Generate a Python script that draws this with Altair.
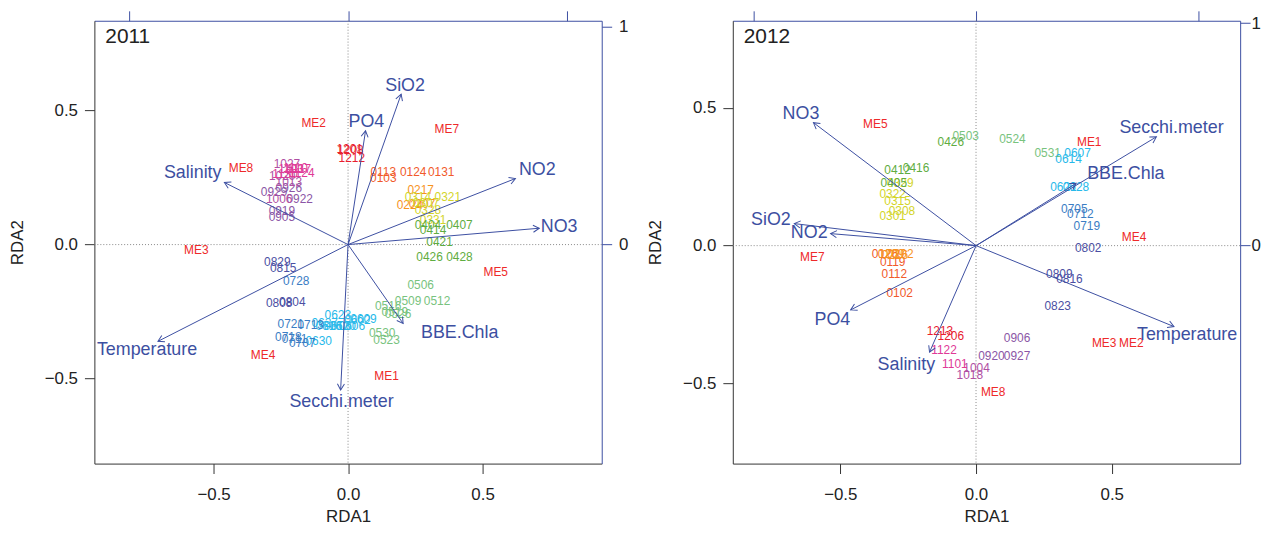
import altair as alt
import pandas as pd

FONT = "Liberation Sans"
BLUE = "#3C4FA1"
DARK = "#333333"

years = ["2011", "2012"]

# ---------------- 2011 site scores ----------------
sites_2011 = ["ME2", "ME8", "ME3", "ME4", "ME1", "ME5", "ME7",
              "1201", "1208", "1212",
              "0103", "0113", "0124", "0131",
              "0217", "0224", "0207",
              "0307", "0314", "0321", "0328", "0331",
              "0404", "0407", "0414", "0421", "0426", "0428",
              "0506", "0509", "0512", "0516", "0519", "0526", "0530", "0523",
              "0602", "0606", "0609", "0613", "0616", "0620", "0623", "0627", "0630",
              "0707", "0711", "0713", "0718", "0721", "0728",
              "0804", "0808", "0815", "0829",
              "0905", "0919", "0922", "0926", "0929",
              "1006", "1013", "1020", "1027",
              "1103", "1110", "1117", "1124", "1130"]
rda1_2011 = [-0.128, -0.398, -0.564, -0.316, 0.143, 0.549, 0.367,
             0.006, 0.009, 0.014,
             0.131, 0.131, 0.242, 0.346,
             0.270, 0.230, 0.275,
             0.290, 0.260, 0.371, 0.297, 0.316,
             0.297, 0.414, 0.316, 0.340, 0.303, 0.414,
             0.270, 0.223, 0.331, 0.149, 0.174, 0.186, 0.127, 0.143,
             0.035, 0.014, 0.057, -0.041, -0.072, -0.020, -0.038, -0.087, -0.109,
             -0.170, -0.199, -0.139, -0.222, -0.213, -0.193,
             -0.207, -0.256, -0.241, -0.263,
             -0.246, -0.246, -0.180, -0.220, -0.275,
             -0.256, -0.220, -0.245, -0.227,
             -0.212, -0.195, -0.183, -0.172, -0.234]
rda2_2011 = [0.454, 0.284, -0.020, -0.413, -0.491, -0.102, 0.431,
             0.356, 0.352, 0.324,
             0.250, 0.269, 0.269, 0.269,
             0.202, 0.149, 0.150,
             0.155, 0.177, 0.177, 0.128, 0.091,
             0.072, 0.072, 0.056, 0.010, -0.045, -0.045,
             -0.150, -0.212, -0.212, -0.231, -0.253, -0.259, -0.330, -0.357,
             -0.283, -0.302, -0.277, -0.302, -0.304, -0.302, -0.261, -0.294, -0.360,
             -0.367, -0.351, -0.299, -0.343, -0.296, -0.135,
             -0.213, -0.219, -0.086, -0.064,
             0.102, 0.124, 0.170, 0.210, 0.196,
             0.170, 0.235, 0.257, 0.301,
             0.283, 0.284, 0.283, 0.266, 0.265]

# ---------------- 2012 site scores ----------------
sites_2012 = ["ME5", "ME7", "ME1", "ME4", "ME3", "ME2", "ME8",
              "0102", "0112", "0119", "0126", "0202", "0209", "0216",
              "0301", "0308", "0315", "0322", "0329",
              "0405", "0412", "0416", "0426",
              "0503", "0524", "0531",
              "0607", "0614", "0621", "0628",
              "0705", "0712", "0719",
              "0802", "0809", "0816", "0823",
              "0906", "0920", "0927",
              "1004", "1018",
              "1101", "1122",
              "1206", "1213"]
rda1_2012 = [-0.371, -0.603, 0.417, 0.582, 0.472, 0.572, 0.063,
             -0.281, -0.301, -0.307, -0.335, -0.279, -0.313, -0.299,
             -0.307, -0.273, -0.289, -0.307, -0.279,
             -0.303, -0.289, -0.221, -0.093,
             -0.038, 0.134, 0.264,
             0.374, 0.341, 0.322, 0.368,
             0.362, 0.384, 0.408,
             0.413, 0.307, 0.344, 0.301,
             0.151, 0.057, 0.151,
             0.002, -0.023,
             -0.078, -0.118,
             -0.093, -0.133]
rda2_2012 = [0.440, -0.041, 0.376, 0.032, -0.353, -0.353, -0.532,
             -0.170, -0.104, -0.059, -0.031, -0.032, -0.031, -0.034,
             0.109, 0.127, 0.160, 0.186, 0.228,
             0.226, 0.274, 0.283, 0.376,
             0.396, 0.388, 0.337,
             0.337, 0.314, 0.214, 0.214,
             0.132, 0.114, 0.070,
             -0.008, -0.104, -0.122, -0.218,
             -0.335, -0.401, -0.401,
             -0.445, -0.469,
             -0.430, -0.377,
             -0.329, -0.308]

# ---------------- environmental biplot arrows ----------------
env_vars = ["SiO2", "PO4", "NO2", "NO3", "BBE.Chla", "Secchi.meter", "Temperature", "Salinity"]
arrow_x_2011 = [0.243, 0.080, 0.766, 0.875, 0.252, -0.034, -0.870, -0.566]
arrow_y_2011 = [0.690, 0.522, 0.303, 0.075, -0.362, -0.667, -0.444, 0.285]
label_x_2011 = [0.261, 0.084, 0.866, 0.966, 0.511, -0.030, -0.920, -0.711]
label_y_2011 = [0.727, 0.563, 0.344, 0.080, -0.408, -0.722, -0.485, 0.330]

arrow_x_2012 = [-0.816, -0.563, -0.653, -0.730, 0.449, 0.809, 0.888, -0.209]
arrow_y_2012 = [0.099, -0.289, 0.054, 0.553, 0.280, 0.489, -0.364, -0.479]
label_x_2012 = [-0.921, -0.645, -0.749, -0.786, 0.672, 0.877, 0.947, -0.313]
label_y_2012 = [0.113, -0.334, 0.057, 0.593, 0.321, 0.529, -0.400, -0.535]

# axis ranges (site scale and biplot scale)
site_dom_x = {"2011": [-0.943, 0.943], "2012": [-0.896, 0.973]}
site_dom_y = {"2011": [-0.817, 0.835], "2012": [-0.790, 0.815]}
bi_dom_x = {"2011": [-1.161, 1.161], "2012": [-1.092, 1.185]}
bi_dom_y = {"2011": [-1.005, 1.027], "2012": [-0.980, 1.011]}
tick_vals = [-0.5, 0.0, 0.5]

month_colors = {"01": "#F15A2B", "02": "#F7931E", "03": "#D3D52A", "04": "#5FAD41",
                "05": "#78C37E", "06": "#27B9EA", "07": "#3B7DC4", "08": "#4B4FA3",
                "09": "#8B56A6", "10": "#B04FA3", "11": "#E03A97", "12": "#E8202F"}


def colour(lbl):
    return "#EE2A2A" if lbl.startswith("ME") else month_colors[lbl[:2]]


HEAD = "M-0.5,0.866L0,0L0.5,0.866"


def panel(year, labs, sx, sy, ax, ay, lx, ly, right_pad):
    sites = pd.DataFrame({"label": labs, "RDA1": sx, "RDA2": sy})
    sites["col"] = [colour(l) for l in labs]
    env = pd.DataFrame({"var": env_vars, "bx": ax, "by": ay, "lx": lx, "ly": ly})
    zero = pd.DataFrame({"zero": [0.0]})
    ytxt = pd.DataFrame({"year": [year]})

    def sxs():
        return alt.Scale(domain=site_dom_x[year], nice=False, zero=False)

    def sys_():
        return alt.Scale(domain=site_dom_y[year], nice=False, zero=False)

    def bxs():
        return alt.Scale(domain=bi_dom_x[year], nice=False, zero=False)

    def bys():
        return alt.Scale(domain=bi_dom_y[year], nice=False, zero=False)

    bottom_axis = alt.Axis(orient="bottom", values=tick_vals, format=".1f", tickSize=10,
                           tickColor=DARK, domainColor=DARK, labelFontSize=17, labelFont=FONT,
                           labelColor="#222", labelPadding=13, titleFontSize=17, titleFont=FONT,
                           titleFontWeight="normal", titleColor="#222", titlePadding=6, grid=False)
    left_axis = alt.Axis(orient="left", values=tick_vals, format=".1f", tickSize=10,
                         tickColor=DARK, domainColor=DARK, labelFontSize=17, labelFont=FONT,
                         labelColor="#222", labelPadding=7, titleFontSize=17, titleFont=FONT,
                         titleFontWeight="normal", titleColor="#222", titlePadding=18, grid=False)
    top_axis = alt.Axis(orient="top", values=[-1, 0, 1], labels=False, tickSize=10,
                        tickColor=BLUE, domainColor=BLUE, title=None, grid=False)
    right_axis = alt.Axis(orient="right", values=[0, 1], format="d", tickSize=10,
                          tickColor=BLUE, domainColor=BLUE, labelFontSize=17, labelFont=FONT,
                          labelColor="#222", labelPadding=right_pad, title=None, grid=False)

    vline = alt.Chart(zero).mark_rule(color="#888", strokeDash=[1, 2], strokeWidth=1).encode(
        x=alt.X("zero:Q", scale=sxs(), axis=None))
    hline = alt.Chart(zero).mark_rule(color="#888", strokeDash=[1, 2], strokeWidth=1).encode(
        y=alt.Y("zero:Q", scale=sys_(), axis=None))
    site_txt = alt.Chart(sites).mark_text(fontSize=12, font=FONT).encode(
        x=alt.X("RDA1:Q", scale=sxs(), axis=bottom_axis, title="RDA1"),
        y=alt.Y("RDA2:Q", scale=sys_(), axis=left_axis, title="RDA2"),
        text="label:N",
        color=alt.Color("col:N", scale=None))
    year_txt = alt.Chart(ytxt).mark_text(align="left", baseline="middle", fontSize=21,
                                         font=FONT, color="#222").encode(
        x=alt.value(11), y=alt.value(16), text="year:N")

    base_env = alt.Chart(env).transform_calculate(
        x0="0", y0="0",
        ang="(450 - atan2(datum.by, datum.bx) * 180 / PI) % 360")
    shafts = base_env.mark_rule(color=BLUE, strokeWidth=1).encode(
        x=alt.X("x0:Q", scale=bxs(), axis=top_axis),
        x2="bx:Q",
        y=alt.Y("y0:Q", scale=bys(), axis=right_axis),
        y2="by:Q")
    heads = base_env.mark_point(shape=HEAD, filled=False, size=200, strokeWidth=1,
                                opacity=1, color=BLUE).encode(
        x=alt.X("bx:Q", scale=bxs(), axis=None),
        y=alt.Y("by:Q", scale=bys(), axis=None),
        angle=alt.Angle("ang:Q", scale=None))
    env_txt = base_env.mark_text(fontSize=18, font=FONT, color=BLUE).encode(
        x=alt.X("lx:Q", scale=bxs(), axis=None),
        y=alt.Y("ly:Q", scale=bys(), axis=None),
        text="var:N")

    return alt.layer(
        vline, hline, site_txt, year_txt, shafts, heads, env_txt
    ).resolve_scale(x="independent", y="independent").properties(width=511, height=446)


p1 = panel("2011", sites_2011, rda1_2011, rda2_2011, arrow_x_2011, arrow_y_2011,
           label_x_2011, label_y_2011, 7)
p2 = panel("2012", sites_2012, rda1_2012, rda2_2012, arrow_x_2012, arrow_y_2012,
           label_x_2012, label_y_2012, 1)

chart = alt.hconcat(p1, p2, spacing=18).properties(
    padding={"left": 0, "top": 0, "right": 0, "bottom": 0}
).configure_view(stroke=None).configure_axis(grid=False)

chart.save("out.html", embed_options={"renderer": "svg", "actions": False})
